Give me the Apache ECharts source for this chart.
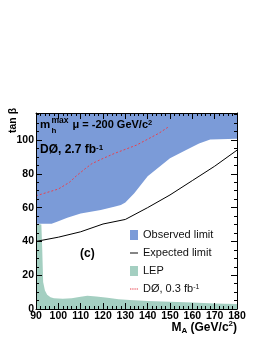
<!DOCTYPE html>
<html>
<head>
<meta charset="utf-8">
<script src="https://cdn.jsdelivr.net/npm/echarts@6/dist/echarts.min.js"></script>
<style>
html,body{margin:0;padding:0;background:#fff;}
#c{width:266px;height:344px;}
</style>
</head>
<body>
<div id="c"></div>
<script>
// Axis ticks
const xTicks = [90, 100, 110, 120, 130, 140, 150, 160, 170, 180];
const yTicks = [0, 20, 40, 60, 80, 100];
const yMax = 116;

// Observed limit (lower boundary of excluded region)
const obsMA   = [90, 97, 100, 104, 110, 119, 125, 128, 130, 134, 140, 150, 157, 163, 168, 180];
const obsTanB = [50.5, 50.5, 52, 54, 56.5, 58.6, 60.5, 61.5, 63, 68.5, 78.5, 89.2, 94, 98, 100.3, 100.8];

// Expected limit
const expMA   = [90, 100, 110, 120, 130, 140, 150, 160, 170, 180];
const expTanB = [40, 42.5, 45.7, 50.3, 53, 60, 67.5, 76, 84.5, 94];

// LEP excluded region
const lepMA   = [90, 92.4, 92.8, 93.2, 94, 95, 96.5, 98, 102, 106, 110, 113, 117, 122, 127, 132, 140, 150, 160, 170, 180];
const lepTanB = [50.5, 50, 35, 16, 11, 8.5, 7, 6.3, 6, 6.3, 7.3, 7.8, 7.4, 6.6, 5.8, 5.3, 4.8, 4.3, 3.8, 3.3, 3];

// DØ 0.3 fb-1 limit
const d0MA   = [90, 95, 100, 105, 108, 112, 115, 119, 125, 130, 135, 140, 145, 149];
const d0TanB = [67, 69, 71, 75, 78.7, 83, 86, 88.5, 92, 94.5, 97, 100.5, 104, 107.5];

const seriesNames = ['Observed limit', 'Expected limit', 'LEP', 'DØ, 0.3 fb-1'];

const pairs = (xs, ys) => xs.map((x, i) => [x, ys[i]]);

const BLUE = '#7b9bd8';
const GREEN = '#a4cfc1';
const RED = '#e8414e';
const FONT = 'Liberation Sans, Arial, sans-serif';

const xMin = xTicks[0], xMax = xTicks[xTicks.length - 1], xInt = xTicks[1] - xTicks[0];
const yInt = yTicks[1] - yTicks[0];

function xAxisCfg(pos, show) {
  return {
    type: 'value', position: pos, min: xMin, max: xMax, interval: xInt, z: 10,
    axisLine: { show: true, onZero: false, lineStyle: { color: '#000', width: 1 } },
    axisTick: { show: true, inside: true, length: 6, lineStyle: { color: '#000' } },
    minorTick: { show: true, splitNumber: 5, length: 3, lineStyle: { color: '#000' } },
    axisLabel: { show: show, margin: 2, color: '#000', fontFamily: FONT, fontWeight: 'bold', fontSize: 10.5 },
    splitLine: { show: false }
  };
}
function yAxisCfg(pos, show) {
  return {
    type: 'value', position: pos, min: 0, max: yMax, interval: yInt, z: 10,
    axisLine: { show: true, onZero: false, lineStyle: { color: '#000', width: 1 } },
    axisTick: { show: true, inside: true, length: 6, lineStyle: { color: '#000' } },
    minorTick: { show: true, splitNumber: 4, length: 3, lineStyle: { color: '#000' } },
    axisLabel: { show: show, margin: 2, color: '#000', fontFamily: FONT, fontWeight: 'bold', fontSize: 10.5,
      showMaxLabel: false,
      formatter: v => (yTicks.indexOf(v) >= 0 ? String(v) : '') },
    splitLine: { show: false }
  };
}

const LINE_ICON = 'path://M0,0h10v1.2h-10z';
const DASH_ICON = 'path://M0,0h2v1.2h-2zM3.3,0h2v1.2h-2zM6.6,0h2v1.2h-2zM9.9,0h2v1.2h-2z';

const chart = echarts.init(document.getElementById('c'), null, { renderer: 'canvas' });
chart.setOption({
  animation: false,
  backgroundColor: '#fff',
  grid: { left: 36, right: 29, top: 113, bottom: 35, containLabel: false },
  xAxis: [xAxisCfg('bottom', true), xAxisCfg('top', false)],
  yAxis: [yAxisCfg('left', true), yAxisCfg('right', false)],
  legend: {
    orient: 'vertical', left: 130, top: 229.5, padding: 0, itemGap: 7, itemWidth: 8, itemHeight: 10,
    symbolKeepAspect: true,
    textStyle: { fontFamily: FONT, fontSize: 11, color: '#111', lineHeight: 11,
      rich: { sup: { fontSize: 7, fontFamily: FONT, color: '#111', verticalAlign: 'top', lineHeight: 7 } } },
    formatter: name => name === seriesNames[3] ? 'DØ, 0.3 fb{sup|-1}' : name,
    data: [
      { name: seriesNames[0], icon: 'rect' },
      { name: seriesNames[1], icon: LINE_ICON },
      { name: seriesNames[2], icon: 'rect' },
      { name: seriesNames[3], icon: DASH_ICON }
    ]
  },
  series: [
    {
      name: seriesNames[0], type: 'line', data: pairs(obsMA, obsTanB), symbol: 'none',
      color: BLUE, lineStyle: { width: 0, color: BLUE }, areaStyle: { origin: 'end', color: BLUE, opacity: 1 },
      z: 1, clip: true
    },
    {
      name: seriesNames[2], type: 'line', data: pairs(lepMA, lepTanB), symbol: 'none',
      color: GREEN, lineStyle: { width: 0, color: GREEN }, areaStyle: { origin: 'start', color: GREEN, opacity: 1 },
      z: 2, clip: true
    },
    {
      name: seriesNames[1], type: 'line', data: pairs(expMA, expTanB), symbol: 'none',
      color: '#000', lineStyle: { width: 1, color: '#000' }, z: 3, clip: true
    },
    {
      name: seriesNames[3], type: 'line', data: pairs(d0MA, d0TanB), symbol: 'none',
      color: RED, lineStyle: { width: 1, color: RED, type: [2, 2] }, z: 4, clip: true
    }
  ],
  graphic: [
    { type: 'text', left: 40, top: 118.5, z: 20, style: { text: 'm', font: 'bold 11.5px ' + FONT, fill: '#000' } },
    { type: 'text', left: 51.5, top: 116.5, z: 20, style: { text: 'max', font: 'bold 8.5px ' + FONT, fill: '#000' } },
    { type: 'text', left: 51.5, top: 126.5, z: 20, style: { text: 'h', font: 'bold 8px ' + FONT, fill: '#000' } },
    { type: 'text', left: 72.5, top: 119, z: 20, style: {
        text: 'μ = -200 GeV/c{sup|2}', font: 'bold 11px ' + FONT, fill: '#000',
        rich: { sup: { font: 'bold 7.5px ' + FONT, fill: '#000', verticalAlign: 'top', lineHeight: 7 } } } },
    { type: 'text', left: 40, top: 144, z: 20, style: {
        text: 'DØ, 2.7 fb{sup|-1}', font: 'bold 12px ' + FONT, fill: '#000',
        rich: { sup: { font: 'bold 8px ' + FONT, fill: '#000', verticalAlign: 'top', lineHeight: 8 } } } },
    { type: 'text', left: 80, top: 248, z: 20, style: { text: '(c)', font: 'bold 12px ' + FONT, fill: '#000' } },
    { type: 'text', x: 8, y: 133, rotation: Math.PI / 2, z: 20, style: {
        text: 'tan β', font: 'bold 10.5px ' + FONT, fill: '#000', align: 'left', verticalAlign: 'top' } },
    { type: 'text', right: 29, top: 320, z: 20, style: {
        text: 'M{sub|A} (GeV/c{sup|2})', font: 'bold 12px ' + FONT, fill: '#000', lineHeight: 15,
        rich: {
          sub: { font: 'bold 8px ' + FONT, fill: '#000', verticalAlign: 'bottom', lineHeight: 8 },
          sup: { font: 'bold 8px ' + FONT, fill: '#000', verticalAlign: 'top', lineHeight: 8 }
        } } }
  ]
});
</script>
</body>
</html>
